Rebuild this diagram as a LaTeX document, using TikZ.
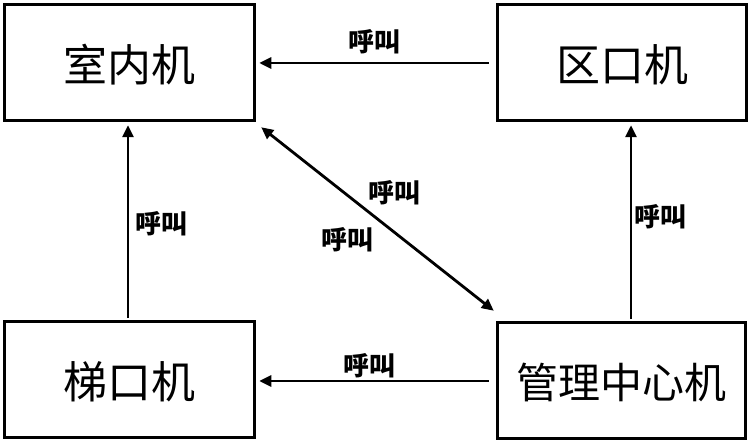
\documentclass[tikz,border=0pt]{standalone}
\usepackage{fontspec}
\newfontfamily\cjk{Noto Sans CJK SC}
\usetikzlibrary{arrows.meta,calc}
\tikzset{
  box/.style={draw, line width=3.5pt, rectangle, inner sep=0pt, font=\cjk\fontsize{44}{48}\selectfont, text height=38pt, text depth=0pt},
  arr/.style={line width=2.8pt, -{Triangle[length=12pt,width=11pt]}},
  darr/.style={line width=2.8pt, {Triangle[length=12pt,width=11pt]}-{Triangle[length=12pt,width=11pt]}},
  lbl/.style={inner sep=0pt, font=\cjk\bfseries\fontsize{26}{28}\selectfont}
}
\begin{document}
\begin{tikzpicture}[x=1pt,y=-1pt]
\useasboundingbox (0,0) rectangle (750,443);
\node[box, minimum width=250pt, minimum height=116pt] (A) at (129.5,62.5) {室内机};
\node[box, minimum width=249pt, minimum height=116pt] (B) at (622,62.5) {区口机};
\node[box, minimum width=250pt, minimum height=116pt] (C) at (129.5,379.5) {梯口机};
\node[box, minimum width=248pt, minimum height=116pt, font=\cjk\fontsize{42}{46}\selectfont, text height=36pt] (D) at (621.5,380.5) {管理中心机};
\coordinate (lv) at (128,0);
\coordinate (rv) at (631,0);
\coordinate (ty) at (0,63);
\coordinate (by) at (0,381);
\draw[arr] ($(B.west|-ty)+(-7,0)$) -- ($(A.east|-ty)+(3,0)$);
\draw[arr] ($(D.west|-by)+(-7,0)$) -- ($(C.east|-by)+(3,0)$);
\draw[arr] ($(C.north-|lv)+(0,-1.5)$) -- ($(A.south-|lv)+(0,3)$);
\draw[arr] ($(D.north-|rv)+(0,-1.5)$) -- ($(B.south-|rv)+(0,3)$);
\draw[darr] ($(A.south east)+(5,5)$) -- ($(D.north west)+(-2,-10)$);
\node[lbl] (l1) at (374,42) {呼叫};
\node[lbl] (l2) at (161,224) {呼叫};
\node[lbl] (l3) at (394,193) {呼叫};
\node[lbl] (l4) at (347,240) {呼叫};
\node[lbl] (l5) at (660,217) {呼叫};
\node[lbl] (l6) at (369,366) {呼叫};
\end{tikzpicture}
\end{document}
